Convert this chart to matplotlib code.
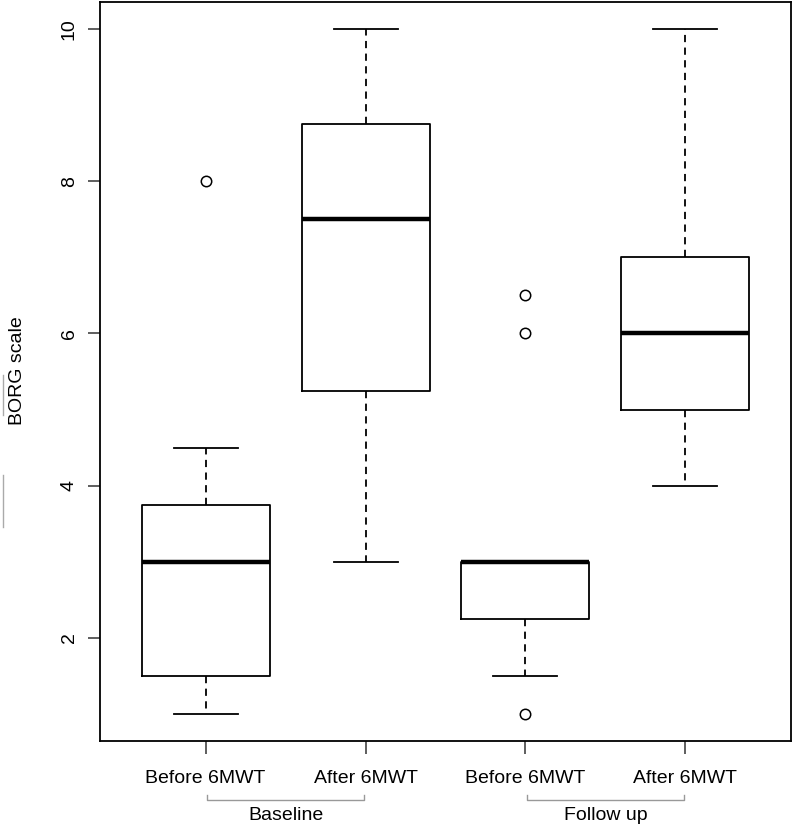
import matplotlib
matplotlib.use('Agg')
import numpy as np
from matplotlib import pyplot as plt
from matplotlib.lines import Line2D

plt.rcParams['font.family'] = ['Liberation Sans', 'DejaVu Sans']

# box statistics
labels = ['Before 6MWT', 'After 6MWT', 'Before 6MWT', 'After 6MWT']
whislo = [1.0, 3.0, 1.5, 4.0]
q1 = [1.5, 5.25, 2.25, 5.0]
med = [3.0, 7.5, 3.0, 6.0]
q3 = [3.75, 8.75, 3.0, 7.0]
whishi = [4.5, 10.0, 3.0, 10.0]
fliers = [[8.0], [], [6.5, 6.0, 1.0], []]

groups = ['Baseline', 'Follow up']
group_members = [(1, 2), (3, 4)]


def build_stats():
    stats = []
    for i in range(len(labels)):
        stats.append({
            'whislo': whislo[i], 'q1': q1[i], 'med': med[i],
            'q3': q3[i], 'whishi': whishi[i], 'fliers': fliers[i],
        })
    return stats


def main():
    W, H = 794, 827
    fig = plt.figure(figsize=(W / 100, H / 100), dpi=100)
    left, right, top, bottom = 100, 791, 2, 741
    ax = fig.add_axes([left / W, 1 - bottom / H, (right - left) / W, (bottom - top) / H])

    lw = 1.3
    positions = np.arange(1, len(labels) + 1)
    ax.bxp(build_stats(), positions=positions, widths=0.8,
           boxprops=dict(color='black', linewidth=lw),
           whiskerprops=dict(color='black', linewidth=lw, linestyle=(0, (4, 3))),
           capprops=dict(color='black', linewidth=lw),
           medianprops=dict(color='black', linewidth=3.2, solid_capstyle='butt'),
           flierprops=dict(marker='o', markerfacecolor='none', markeredgecolor='black',
                           markersize=7.5, markeredgewidth=1.1, linestyle='none'),
           capwidths=0.4)

    ax.set_xlim(0.34, 4.66)
    ax.set_ylim(0.64, 10.36)
    ax.set_yticks([2, 4, 6, 8, 10])
    ax.set_yticklabels(['2', '4', '6', '8', '10'], rotation=90, va='center')
    ax.set_xticks(positions)
    ax.set_xticklabels(labels)
    ax.tick_params(axis='both', labelsize=14, length=9, width=1.1, pad=7, color='#333333')
    ax.tick_params(axis='x', pad=12)
    for s in ax.spines.values():
        s.set_linewidth(1.3)
    ax.set_ylabel('BORG scale', fontsize=14, va='center')
    ax.yaxis.set_label_coords((18 - left) / (right - left), (bottom - 371) / (bottom - top))

    # group brackets under the tick labels
    tr = ax.get_xaxis_transform()
    ylo = (bottom - 800) / (bottom - top)
    yhi = (bottom - 795) / (bottom - top)
    ytxt = (bottom - 815) / (bottom - top)
    for name, (a, b) in zip(groups, group_members):
        ax.plot([a + 0.01, a + 0.01, b - 0.01, b - 0.01], [yhi, ylo, ylo, yhi],
                color='#999999', linewidth=1.0, transform=tr, clip_on=False)
        ax.text((a + b) / 2, ytxt, name, transform=tr, ha='center', va='center',
                fontsize=14)

    # faint marks at the far left edge
    for y0, y1 in [(375, 415), (475, 527)]:
        fig.add_artist(Line2D([3 / W, 3 / W], [1 - y0 / H, 1 - y1 / H],
                              color='#aaaaaa', linewidth=1.0))

    fig.savefig('out.png', dpi=100)


main()
